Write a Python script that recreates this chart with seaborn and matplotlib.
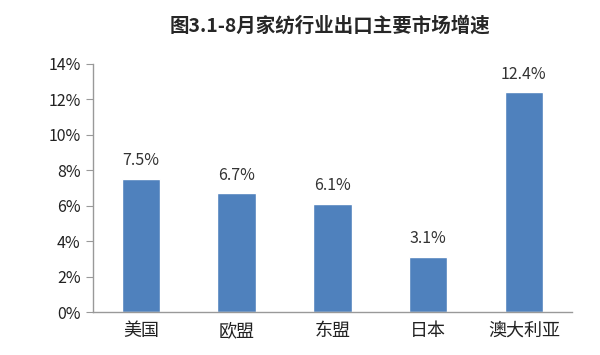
import numpy as np
import pandas as pd
import seaborn as sns
import matplotlib.pyplot as plt
from matplotlib.ticker import FuncFormatter, MultipleLocator

markets = ['美国', '欧盟', '东盟', '日本', '澳大利亚']
growth = [7.5, 6.7, 6.1, 3.1, 12.4]
value_labels = ['7.5%', '6.7%', '6.1%', '3.1%', '12.4%']

sns.set_style('white')
plt.rcParams['font.family'] = ['Noto Sans CJK SC', 'DejaVu Sans']

df = pd.DataFrame({'market': markets, 'growth': growth})

fig = plt.figure(figsize=(6, 3.55), dpi=100)
ax = fig.add_axes([0.155, 0.121, 0.798, 0.699])
sns.barplot(data=df, x='market', y='growth', color='#4F81BD', saturation=1,
            width=0.4, ax=ax)

for i, (v, lab) in enumerate(zip(growth, value_labels)):
    ax.text(i, v + 0.55, lab, ha='center', va='bottom', fontsize=11.5, color='#333333')

ax.set_ylim(0, 14)
ax.set_xlim(-0.5, 4.5)
ax.yaxis.set_major_locator(MultipleLocator(2))
ax.yaxis.set_major_formatter(FuncFormatter(lambda v, p: f'{v:.0f}%'))
ax.set_xlabel('')
ax.set_ylabel('')

for s in ['top', 'right']:
    ax.spines[s].set_visible(False)
for s in ['left', 'bottom']:
    ax.spines[s].set_color('#999999')
    ax.spines[s].set_linewidth(1)

ax.set_xticks(np.arange(-0.5, 5, 1), minor=True)
ax.tick_params(axis='x', which='major', length=0, pad=7, labelsize=13)
ax.tick_params(axis='x', which='minor', length=5, color='#999999', direction='out')
ax.tick_params(axis='y', length=5, color='#999999', direction='out', labelsize=11.5,
               left=True, pad=4)
for t in ax.get_xticklabels() + ax.get_yticklabels():
    t.set_color('#222222')

fig.suptitle('图3.1-8月家纺行业出口主要市场增速', x=0.55, y=0.955, fontsize=14,
             fontweight='bold')

fig.savefig('out.png', dpi=100, facecolor='white')
